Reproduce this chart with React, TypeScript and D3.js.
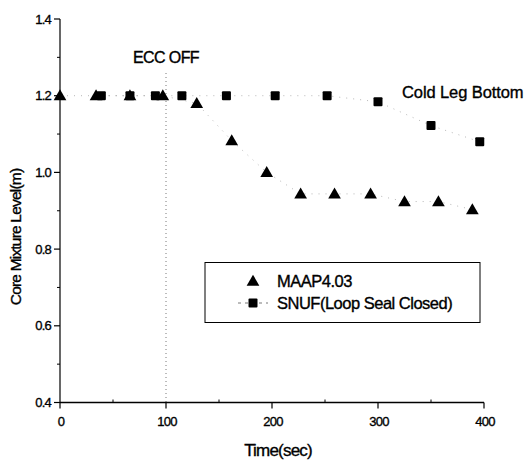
import React from "react";
import * as d3 from "d3";

const maapTime = [0, 34, 66, 97, 129, 162, 195, 227, 259, 293, 325, 357, 389];
const maapLevel = [1.2, 1.2, 1.2, 1.2, 1.18, 1.083, 1.0, 0.944, 0.944, 0.944, 0.924, 0.924, 0.903];
const snufTime = [39, 66, 90, 115, 157, 203, 252, 300, 350, 396];
const snufLevel = [1.2, 1.2, 1.2, 1.2, 1.2, 1.2, 1.2, 1.184, 1.122, 1.08];
const xTicks = [0, 100, 200, 300, 400];
const yTicks = [0.4, 0.6, 0.8, 1.0, 1.2, 1.4];
const legendLabels = ["MAAP4.03", "SNUF(Loop Seal Closed)"];

const W = 527, H = 460;
const font = "'Liberation Sans', Arial, sans-serif";
const ts = { stroke: "#000", strokeWidth: 0.35 };

export default function App() {
  const x = d3.scaleLinear().domain([0, 400]).range([60, 484]);
  const y = d3.scaleLinear().domain([0.4, 1.4]).range([402.5, 19]);
  const line = d3.line<[number, number]>().x(d => x(d[0])).y(d => y(d[1]));
  const maap = maapTime.map((t, i) => [t, maapLevel[i]] as [number, number]);
  const snuf = snufTime.map((t, i) => [t, snufLevel[i]] as [number, number]);
  const tri = d3.symbol().type(d3.symbolTriangle).size(70)();
  const minorX = d3.range(50, 400, 100);
  const minorY = d3.range(0.5, 1.4, 0.2);

  return (
    <svg width={W} height={H} style={{ position: "absolute", left: 0, top: 0, background: "#fff" }} fontFamily={font}>
      <rect width={W} height={H} fill="#fff" />
      {/* ECC OFF line */}
      <line x1={x(100)} x2={x(100)} y1={73} y2={y(0.4)} stroke="#555" strokeWidth={0.8} strokeDasharray="1,3" />
      <text x={x(100)} y={63} fontSize={16} textAnchor="middle" letterSpacing={-0.6} {...ts}>ECC OFF</text>
      <text x={402} y={98} fontSize={16.5} letterSpacing={-0.1} {...ts}>Cold Leg Bottom</text>
      {/* connecting lines */}
      <path d={line(maap) || ""} fill="none" stroke="#999" strokeWidth={0.7} strokeDasharray="1,6" />
      <path d={line(snuf) || ""} fill="none" stroke="#999" strokeWidth={0.7} strokeDasharray="1,6" />
      {/* axes */}
      <line x1={60} x2={60} y1={y(1.4)} y2={y(0.4)} stroke="#000" strokeWidth={1.2} />
      <line x1={60} x2={484} y1={y(0.4)} y2={y(0.4)} stroke="#000" strokeWidth={1.5} />
      {yTicks.map(v => (
        <g key={"y" + v}>
          <line x1={54} x2={60} y1={y(v)} y2={y(v)} stroke="#000" strokeWidth={1.2} />
          <text x={51} y={y(v) + 4.5} fontSize={13} textAnchor="end" letterSpacing={-0.8} {...ts}>{v.toFixed(1)}</text>
        </g>
      ))}
      {minorY.map(v => (
        <line key={"my" + v} x1={57} x2={60} y1={y(v)} y2={y(v)} stroke="#000" />
      ))}
      {xTicks.map(v => (
        <g key={"x" + v}>
          <line x1={x(v)} x2={x(v)} y1={y(0.4)} y2={y(0.4) + 6} stroke="#000" strokeWidth={1.2} />
          <text x={x(v) + 1} y={426} fontSize={13} textAnchor="middle" letterSpacing={-0.8} {...ts}>{v}</text>
        </g>
      ))}
      {minorX.map(v => (
        <line key={"mx" + v} x1={x(v)} x2={x(v)} y1={y(0.4) - 3} y2={y(0.4)} stroke="#000" />
      ))}
      <text x={278} y={456} fontSize={17} textAnchor="middle" letterSpacing={-0.8} {...ts}>Time(sec)</text>
      <text transform="translate(21,237) rotate(-90)" fontSize={15.5} textAnchor="middle" letterSpacing={-0.8} {...ts}>Core Mixture Level(m)</text>
      {/* markers */}
      {snuf.map((d, i) => (
        <rect key={"s" + i} x={x(d[0]) - 4.5} y={y(d[1]) - 4.5} width={9} height={9} fill="#000" rx={1} />
      ))}
      {maap.map((d, i) => (
        <path key={"m" + i} d={tri || ""} transform={`translate(${x(d[0])},${y(d[1]) + 1})`} fill="#000" />
      ))}
      {/* legend */}
      <rect x={205} y={262.5} width={275} height={60} fill="#fff" stroke="#000" strokeWidth={1} />
      <path d={tri || ""} transform="translate(253,282)" fill="#000" />
      <line x1={238} x2={268} y1={303} y2={303} stroke="#555" strokeWidth={0.8} strokeDasharray="3,4" />
      <rect x={248.5} y={298.5} width={9} height={9} fill="#000" rx={1} />
      <text x={277} y={287} fontSize={16.5} letterSpacing={-0.5} {...ts}>{legendLabels[0]}</text>
      <text x={277} y={309} fontSize={16.5} letterSpacing={-0.5} {...ts}>{legendLabels[1]}</text>
    </svg>
  );
}
